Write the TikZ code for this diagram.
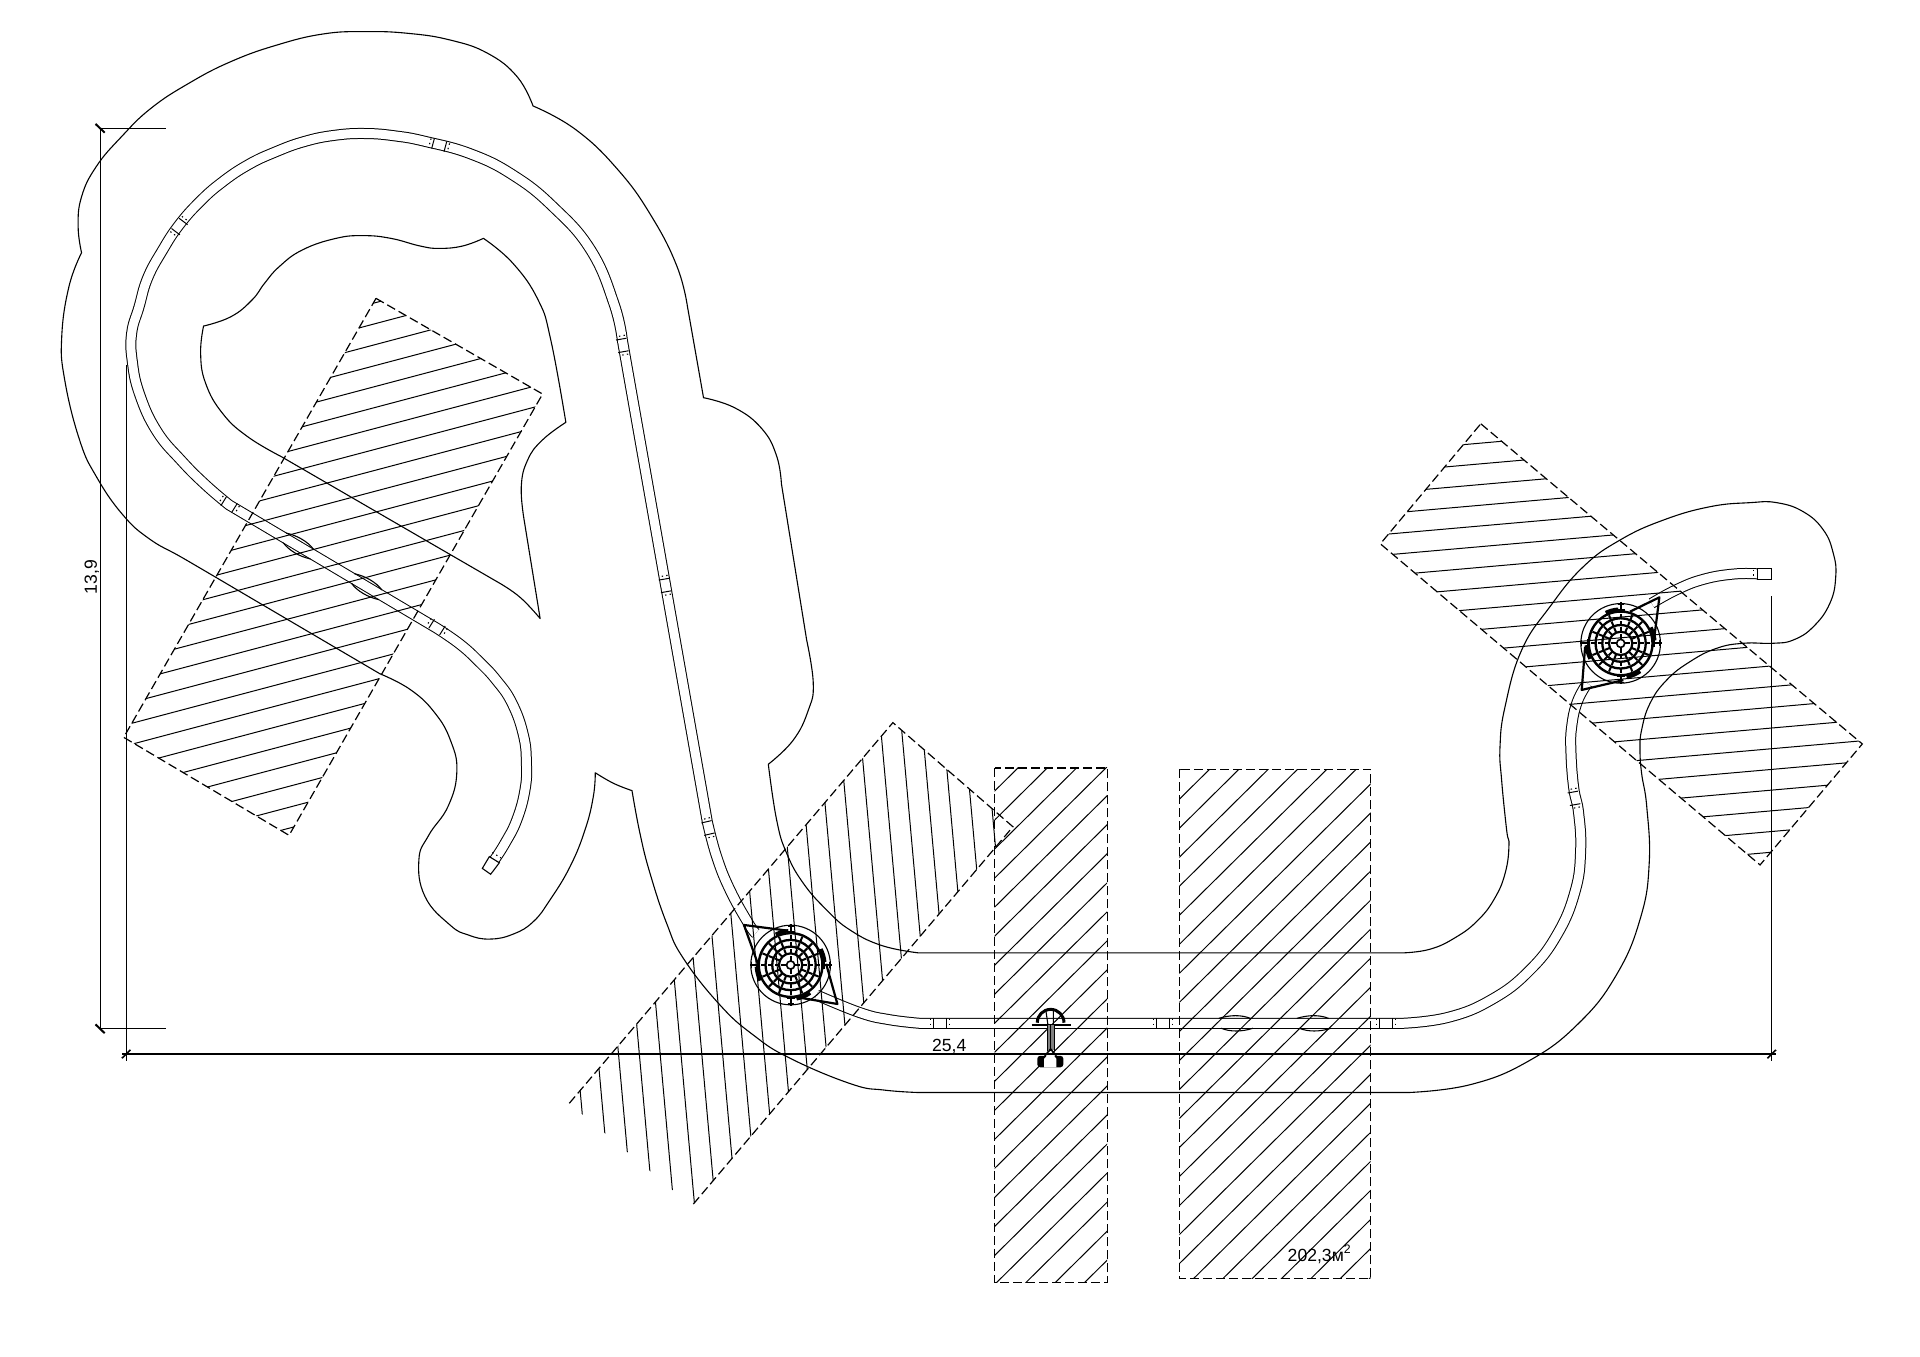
\documentclass[tikz,border=0pt]{standalone}
\usepackage{fontspec}
\setmainfont{Liberation Sans}
\usetikzlibrary{calc}
\tikzset{
  outline/.style={line width=0.55pt,black,line join=round},
  railtrack/.style={line width=0.5pt,double=white,double distance=4.5pt,black},
  zone/.style={line width=0.6pt,dash pattern=on 4.5pt off 2pt},
  hatchline/.style={line width=0.5pt},
  dim/.style={line width=0.6pt},
  dots/.style={line width=0.55pt,dash pattern=on 0.7pt off 1.6pt},
  lbl/.style={font=\fontsize{8.8pt}{10pt}\selectfont,inner sep=0pt},
  smoothcurve/.style={smooth,tension=0.75},
}
% slanted hatch: y = y0 + k*gap + m*(x-x0)
\newcommand\slanthatch[5]{%
  \begin{scope}\clip #5;
    \foreach \k in {-45,...,45}{
      \draw[hatchline] (0,{#2+\k*#3+#4*(0-#1)}) -- (1600,{#2+\k*#3+#4*(1600-#1)});
    }
  \end{scope}}
% steep hatch: x = x0 + k*gap + m*(y-y0)
\newcommand\steephatch[5]{%
  \begin{scope}\clip #5;
    \foreach \k in {-45,...,45}{
      \draw[hatchline] ({#1+\k*#3+#4*(0-#2)},0) -- ({#1+\k*#3+#4*(1105-#2)},1105);
    }
  \end{scope}}
\newcommand\railtick[3]{%
  \begin{scope}[shift={(#1,#2)},rotate=-#3]
    \draw[line width=0.5pt] (5.2,-4.3) -- (5.2,4.3) (-5.2,-4.3) -- (-5.2,4.3);
    \draw[dots] (7.8,-3.5) -- (7.8,3.5) (-7.8,-3.5) -- (-7.8,3.5);
  \end{scope}}
\newcommand\lens[3]{%
  \begin{scope}[shift={(#1,#2)},rotate=-#3]
    \draw[line width=0.55pt] (-14,-4) .. controls (-5,-7) and (5,-7) .. (12,-4);
    \draw[line width=0.55pt] (-12,4) .. controls (-5,7) and (5,7) .. (14,4);
  \end{scope}}
\newcommand\millwheel[3]{% x,y,diamond code
  \begin{scope}[shift={(#1,#2)}]
    \draw[line width=0.55pt] (0,0) circle (32.5);
    \draw[line width=1.2pt] (0,0) circle (26);
    \draw[line width=1.15pt] (0,0) circle (20.5);
    \draw[line width=1.15pt] (0,0) circle (15);
    \draw[line width=1.1pt] (0,0) circle (9.5);
    \draw[line width=0.8pt] (0,0) circle (3.3);
    \foreach \a in {22.5,45,67.5,112.5,135,157.5,202.5,225,247.5,292.5,315,337.5}{
      \draw[line width=1pt,dash pattern=on 2.6pt off 0.8pt] (\a:9.5) -- (\a:26);
    }
    \foreach \a in {0,90,180,270}{
      \draw[line width=1pt,dash pattern=on 2.6pt off 0.8pt] (\a:3.3) -- (\a:26);
      \draw[line width=0.9pt] (\a:26) -- (\a:33.5);
      \draw[line width=0.9pt] (\a:27) ++(\a+90:3.2) -- ++(\a-90:6.4);
      \draw[line width=0.9pt] (\a:32) ++(\a+90:2.5) -- ++(\a-90:5);
    }
    \foreach \s/\e in {244/266,-28/-5,80/55,177/153}{
      \draw[line width=1.7pt] (\s:28) arc (\s:\e:28);
    }
    #3
  \end{scope}}
\begin{document}
\begin{tikzpicture}[x=0.6124pt,y=-0.6124pt]
\useasboundingbox (0,0) rectangle (1567.6,1107.9);
\fill[white] (0,0) rectangle (1567.6,1107.9);

% track
\draw[railtrack] (403.7,702) -- plot[smoothcurve] coordinates {(403.7,702) (412.3,688.5) (421.9,669.5) (428.6,645) (429.8,623.2) (427.3,600) (418,574) (405,555) (391,540) (375.6,526) (356.8,513)} -- (187,412.2)
  -- plot[smoothcurve] coordinates {(187,412.2) (168,396) (148,376) (128,352) (114,322) (108,295) (107.5,272) (113.5,250.6) (120.5,227) (132.6,204.5) (146,184) (162.9,164.9) (181,149) (202.5,134.6) (225,124) (248.6,115.5) (273,110.5) (298,109) (323,111) (347.4,115.5) (384.4,125.7) (418.8,142.9) (451.4,168.7) (482.3,204.1) (501.2,247.7) (508.1,277.6)}
  -- (577.5,671)
  -- plot[smoothcurve] coordinates {(577.5,671) (585.1,699.4) (596,726.6) (611,753.8) (617,762)};
\draw[railtrack] plot[smoothcurve] coordinates {(666.8,812.4) (702.2,826.8) (726,832.5) (751.1,835.5)} -- (1145,835.5)
  -- plot[smoothcurve] coordinates {(1145,835.5) (1182.8,830.5) (1218,816) (1248.2,792.9) (1271.4,762.8) (1286,727.7) (1290.5,695) (1288.9,664) (1284.8,642.8) (1282.6,613.7) (1283.2,593.3) (1287.8,572.9) (1296,557.9)};
\draw[railtrack] plot[smoothcurve] coordinates {(1348.5,492.6) (1368.9,481.4) (1390.7,473) (1415.2,468.7) (1434.8,468.5)};
\draw[line width=0.55pt] (399.5,699.4) -- (393.8,709) -- (400.6,713.8) -- (407.7,704.4) -- cycle;
\draw[dots] (402,696) -- (409,700.5);
\draw[line width=0.55pt] (1434.8,464) rectangle (1446,473);
\draw[dots] (1432,465) -- (1432,472);

\railtick{358.6}{118.4}{15}
\railtick{146.6}{185}{-53}
\railtick{508.1}{282}{80}
\railtick{543}{478}{80}
\railtick{578}{676}{77}
\railtick{187}{412}{32}
\railtick{356.8}{512}{32}
\railtick{767.5}{835.5}{0}
\railtick{949.5}{835.5}{0}
\railtick{1131.6}{835.5}{0}
\railtick{1285.1}{651.8}{80}
\lens{243.6}{445.8}{30.7}
\lens{299.4}{479}{30.7}
\lens{1009}{835.5}{0}
\lens{1072.8}{835.5}{0}

% ground outlines
\draw[outline] plot[smoothcurve] coordinates {(435.2,86.5) (422.2,62.6) (398.1,43.5) (367.2,32.6) (332.9,27.2) (298.5,25.8) (264.1,27.7) (226.3,36.7) (188.5,50.3) (154.2,68) (123.3,88.4) (99.2,111.6) (78.6,136) (66.6,160.6) (63.8,185) (66.6,206.3)}
 -- plot[smoothcurve] coordinates {(66.6,206.3) (56.3,234) (50.4,275) (52.8,310) (64.9,359) (78.6,389) (100,420) (122,440) (150,456) (196,483)}
 -- (310,550)
 -- plot[smoothcurve] coordinates {(310,550) (335,563) (355,582) (368,605) (373,630) (366,658) (350,682) (342,702) (347,732) (367.4,755.2) (382.4,763.4) (400,766.7) (419.1,762.6) (435.4,752.5) (449,734.8) (465.4,707.6) (477.6,677.7) (484.4,650.5) (486,630.9)}
 -- plot[smoothcurve] coordinates {(486,630.9) (500.8,639.5) (516,645.5)}
 -- plot[smoothcurve] coordinates {(516,645.5) (522.5,680.4) (530.7,713) (544.3,753.9) (557.9,782.4) (587.8,820.5) (615,845) (645,864) (695,885) (722,890) (750,892)}
 -- (1150,892)
 -- plot[smoothcurve] coordinates {(1150,892) (1200.7,885.5) (1248,866.3) (1288.6,835.8) (1319.7,796) (1339.3,749.7) (1346.5,705) (1344.5,658.6) (1340.3,631.4) (1339,612.3) (1340.3,596) (1347.2,574.2) (1360.8,555.2) (1379.8,540.2) (1401.6,529.3) (1423.4,525.2) (1447.9,525.2) (1464.2,522.5) (1480.5,511.7) (1494,492.6) (1498.8,470.8) (1496.8,451.8) (1488.7,432.7) (1472.3,417.8) (1450.6,410.4) (1428.8,410.4) (1396.2,413.7) (1358.1,424.6) (1322.7,440.9) (1292.7,462.7) (1265.5,495.3) (1242.4,530.7) (1228.8,577) (1224.7,609.6) (1226,636.8) (1230.1,677.7) (1232,690) (1229,712.5) (1220.3,733.5) (1206.5,751.5) (1188.5,765.3) (1167.5,775) (1145,778)}
 -- (750,778)
 -- plot[smoothcurve] coordinates {(750,778) (720,772) (694,759.3) (675,743) (655.9,721.2) (642.3,696.7) (634.1,669.5) (627.3,624)}
 -- plot[smoothcurve] coordinates {(627.3,624) (647.7,604.2) (660,579.7) (664,557.9) (658.6,522.5)}
 -- (638,395)
 -- plot[smoothcurve] coordinates {(638,395) (634,372) (622,350) (600,333) (574.4,324.7)}
 -- (561.3,250.4)
 -- plot[smoothcurve] coordinates {(561.3,250.4) (552.8,217.7) (532.1,176.9) (504.7,138.8) (470.3,106) (435.2,86.5)} -- cycle;
\draw[outline] plot[smoothcurve] coordinates {(394.7,194.6) (377.5,200.9) (358.6,202.8) (343.2,200.9) (319.1,194.6) (296.8,192.4) (274.4,194.6) (247,204) (228,217.7) (216,231.3) (205.7,245) (188.5,258.6) (166.2,266.2)}
 -- plot[smoothcurve] coordinates {(166.2,266.2) (163.8,288.5) (167.9,313) (181.7,337.5) (202.3,356.6) (229.8,372.9)}
 -- (408.2,476.3)
 -- plot[smoothcurve] coordinates {(408.2,476.3) (425,488) (441,505)}
 -- (428,425)
 -- plot[smoothcurve] coordinates {(428,425) (425.6,397.4) (430.8,375.6) (442.8,359.3) (462,344.8)}
 -- plot[smoothcurve] coordinates {(462,344.8) (449.7,277.6) (439.4,245) (418.8,215) (394.7,194.6)} -- cycle;

% hatched zones
\slanthatch{196}{447.4}{17.1}{-0.265}{(307,243.6) -- (443,321.7) -- (236,682) -- (101,602) -- cycle}
\draw[zone] (307,243.6) -- (443,321.7) -- (236,682) -- (101,602) -- cycle;
\steephatch{557.9}{881.8}{17}{0.09}{(464.8,900.8) -- (729,590) -- (827,675) -- (564.7,984.7) -- cycle}
\draw[zone] (464.8,900.8) -- (729,590) -- (827,675) -- (564.7,984.7);
\slanthatch{811.9}{1001.5}{23.7}{-0.99}{(812,627) rectangle (904,1047)}
\draw[zone] (812,627) rectangle (904,1047);
\slanthatch{962.6}{1008.3}{23.7}{-0.99}{(963,628) rectangle (1119,1044)}
\draw[zone] (963,628) rectangle (1119,1044);
\slanthatch{1183.9}{448.5}{16.9}{-0.088}{(1209,346) -- (1520.5,607.4) -- (1437,706.2) -- (1127,444) -- cycle}
\draw[zone] (1209,346) -- (1520.5,607.4) -- (1437,706.2) -- (1127,444) -- cycle;

% mills
\millwheel{645.5}{787.9}{
  \draw[line width=1.1pt,line join=round] (-2,-28) -- (-38.1,-32.7) -- (-26,1);
  \draw[line width=1.1pt,line join=round] (3.5,26) -- (38.2,31.8) -- (29,-1);
}
\millwheel{1323.2}{525.3}{
  \draw[line width=1.1pt,line join=round] (7.6,-25.9) -- (31.6,-37.6) -- (27.2,-2.7);
  \draw[line width=1.1pt,line join=round] (-29,2.7) -- (-31.8,38) -- (2.2,30);
}

% play unit
\draw[line width=1.5pt] (846.9,835) arc (180:360:10.9);
\draw[line width=1.2pt] (842.3,836.9) -- (874.2,836.9);
\draw[line width=0.55pt] (854,825.5) -- (855.5,836) (860,825.5) -- (860,836);
\fill[black!50] (855,836.9) rectangle (860.6,857.3);
\draw[line width=0.45pt] (855,836.9) -- (855,858) (857.8,836.9) -- (857.8,858) (860.6,836.9) -- (860.6,858);
\fill[black,rounded corners=1.5pt] (846.9,862) rectangle (868.2,871.4);
\draw[line width=0.8pt] (853,862) -- (857.8,856.5) -- (862.5,862);
\fill[white] (852.5,871.4) -- (852.5,864.5) -- (857.8,858.5) -- (862.5,864.5) -- (862.5,871.4) -- cycle;

% dimensions
\coordinate (dv1) at (82,104.8);
\coordinate (dv2) at (82,840);
\draw[dim] (dv1) -- (dv2);
\draw[dim] (100,860.6) -- (1450,860.6);
\draw[dim] (dv1) -- (135.3,104.8);
\draw[dim] (dv2) -- (135.3,840);
\draw[dim] (103,298) -- (103,866);
\draw[dim] (1446.5,487) -- (1446.5,866);
\draw[line width=1pt] (78,101.2) -- (85.5,108.3) (78,836.4) -- (85.5,843.6);
\draw[line width=0.8pt] (99.5,864) -- (106.5,857.2) (1443,864) -- (1450,857.2);
\node[lbl,rotate=90] (lh) at (75,471) {13,9};
\node[lbl] (lw) at (775,854) {25,4};
\node[lbl] (la) at (1077.5,1024) {202,3м\textsuperscript{2}};
\end{tikzpicture}
\end{document}
